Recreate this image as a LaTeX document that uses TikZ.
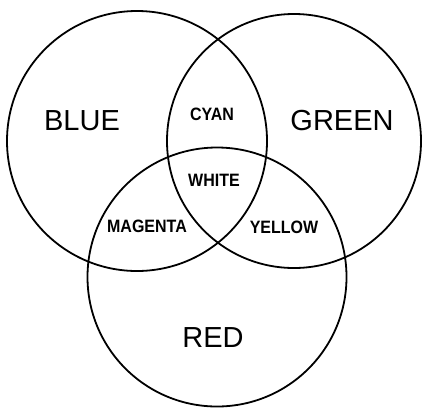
\documentclass[tikz,border=0pt]{standalone}
\usepackage{fontspec}
\setmainfont{Liberation Sans}
\newcommand{\tallsmall}[1]{\scalebox{1}[1.12]{#1}}
\begin{document}
\begin{tikzpicture}[x=1pt,y=-1pt,
  ring/.style={draw=black,line width=1.8pt},
  bigtxt/.style={font=\fontsize{29}{31}\selectfont,inner sep=0pt},
  smalltxt/.style={font=\fontsize{16}{18}\selectfont\bfseries,inner sep=0pt}]
\useasboundingbox (0,0) rectangle (422,408);
\draw[ring] (137,141) circle (130);
\draw[ring] (294,141) circle (127);
\draw[ring] (217,277) circle (129.5);
\node[bigtxt] (blue) at (82,121) {BLUE};
\node[bigtxt] (green) at (342,121) {GREEN};
\node[bigtxt] (red) at (213,338) {RED};
\node[smalltxt] (cyan) at (212,114) {\tallsmall{CYAN}};
\node[smalltxt] (white) at (214,180) {\tallsmall{WHITE}};
\node[smalltxt] (magenta) at (147,226) {\tallsmall{MAGENTA}};
\node[smalltxt] (yellow) at (284,227) {\tallsmall{YELLOW}};
\end{tikzpicture}
\end{document}
